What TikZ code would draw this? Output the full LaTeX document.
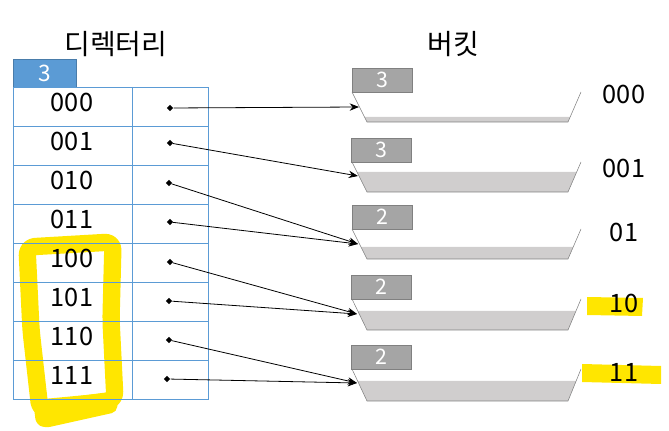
\documentclass[tikz,border=0pt]{standalone}
\usepackage{fontspec}
\setmainfont{Noto Sans CJK KR}
\usetikzlibrary{arrows.meta,calc}
\definecolor{tblblue}{HTML}{5B9BD5}
\definecolor{boxgray}{HTML}{A5A5A5}
\definecolor{fillgray}{HTML}{D0CECE}
\definecolor{edgegray}{HTML}{808080}
\definecolor{marker}{HTML}{FFE600}

\tikzset{
  ptr/.style={-{Stealth[length=7pt,width=5.5pt]}, semithick},
  ptrdot/.style={diamond, fill, inner sep=0pt, minimum size=5pt},
  digits/.style={font=\fontsize{19}{22}\selectfont, anchor=base, inner sep=0pt},
  heading/.style={font=\fontsize{21}{24}\selectfont, anchor=base, inner sep=0pt},
  depthbox/.style={fill=boxgray, draw=edgegray, minimum width=45pt, minimum height=18pt,
    inner sep=0pt, text=white, font=\fontsize{16}{18}\selectfont},
  globalbox/.style={fill=tblblue, draw=tblblue!80!black, minimum width=47pt, minimum height=21pt,
    inner sep=0pt, text=white, font=\fontsize{17}{19}\selectfont},
}
\usetikzlibrary{shapes.geometric}

\begin{document}
\begin{tikzpicture}[x=0.75pt, y=-0.75pt]
    \useasboundingbox (0,0) rectangle (669,431);

    % yellow marker strokes
    \draw[marker, line width=13pt, line join=round, rounded corners=6pt]
        (27,247) -- (113,242) -- (111,320) -- (115,400) -- (40,410) -- (31,330) -- cycle;
    \fill[marker, rounded corners=4pt] (33,400) -- (118,392) -- (117,412) -- (45,428) -- (36,424) -- cycle;
    \fill[marker] (587,297) -- (643,298) -- (642,316) -- (587,315) -- cycle;
    \fill[marker] (582,364) -- (661,366) -- (661,384) -- (582,382) -- cycle;

    % titles
    \node[heading] (dirtitle) at (116,55) {디렉터리};
    \node[heading] (buckettitle) at (453,55) {버킷};

    % directory table
    \node[globalbox] (gdepth) at (44.5,73) {3};
    \draw[tblblue] (13,87) rectangle (208,399);
    \foreach \y in {126,165,204,243,282,321,360}
        \draw[tblblue] (13,\y) -- (208,\y);
    \draw[tblblue] (132,87) -- (132,399);
    \foreach \k [count=\i from 0] in {000,001,010,011,100,101,110,111}
        \node[digits] (k\k) at (72,{112+39*\i}) {\k};

    % pointers in the table
    \node[ptrdot] (d1) at (170,108) {};
    \node[ptrdot] (d2) at (170,143) {};
    \node[ptrdot] (d3) at (169,183) {};
    \node[ptrdot] (d4) at (170,222) {};
    \node[ptrdot] (d5) at (170,262) {};
    \node[ptrdot] (d6) at (169,301) {};
    \node[ptrdot] (d7) at (169,340) {};
    \node[ptrdot] (d8) at (167,379) {};

    % buckets: top / bottom / fill level
    \foreach \n/\t/\b/\f in {1/92/122/117, 2/162/192/172, 3/229/259/247, 4/299/330/311, 5/369/401/381} {
        \pgfmathsetmacro{\r}{(\f-\t)/(\b-\t)}
        \fill[fillgray] ($(352,\t)!\r!(367,\b)$) -- (367,\b) -- (568,\b) -- ($(581,\t)!\r!(568,\b)$) -- cycle;
        \draw[edgegray] (352,\t) -- (367,\b) -- (568,\b) -- (581,\t);
    }
    \node[depthbox] (depth1) at (382,80) {3};
    \node[depthbox] (depth2) at (381,150) {3};
    \node[depthbox] (depth3) at (382,217) {2};
    \node[depthbox] (depth4) at (381,287) {2};
    \node[depthbox] (depth5) at (381,357) {2};

    \coordinate (b1in) at (359,107);
    \coordinate (b2in) at (358,176);
    \coordinate (b3in) at (358,244);
    \coordinate (b4in) at (357,314);
    \coordinate (b5in) at (357,383);

    % bucket prefixes
    \node[digits] (pre1) at (624,104) {000};
    \node[digits] (pre2) at (624,178) {001};
    \node[digits] (pre3) at (624,242) {01};
    \node[digits] (pre4) at (624,313) {10};
    \node[digits] (pre5) at (624,382) {11};

    % arrows
    \draw[ptr] (d1) -- (b1in);
    \draw[ptr] (d2) -- (b2in);
    \draw[ptr] (d3) -- (b3in);
    \draw[ptr] (d4) -- (b3in);
    \draw[ptr] (d5) -- (b4in);
    \draw[ptr] (d6) -- (b4in);
    \draw[ptr] (d7) -- (b5in);
    \draw[ptr] (d8) -- (b5in);

\end{tikzpicture}
\end{document}
